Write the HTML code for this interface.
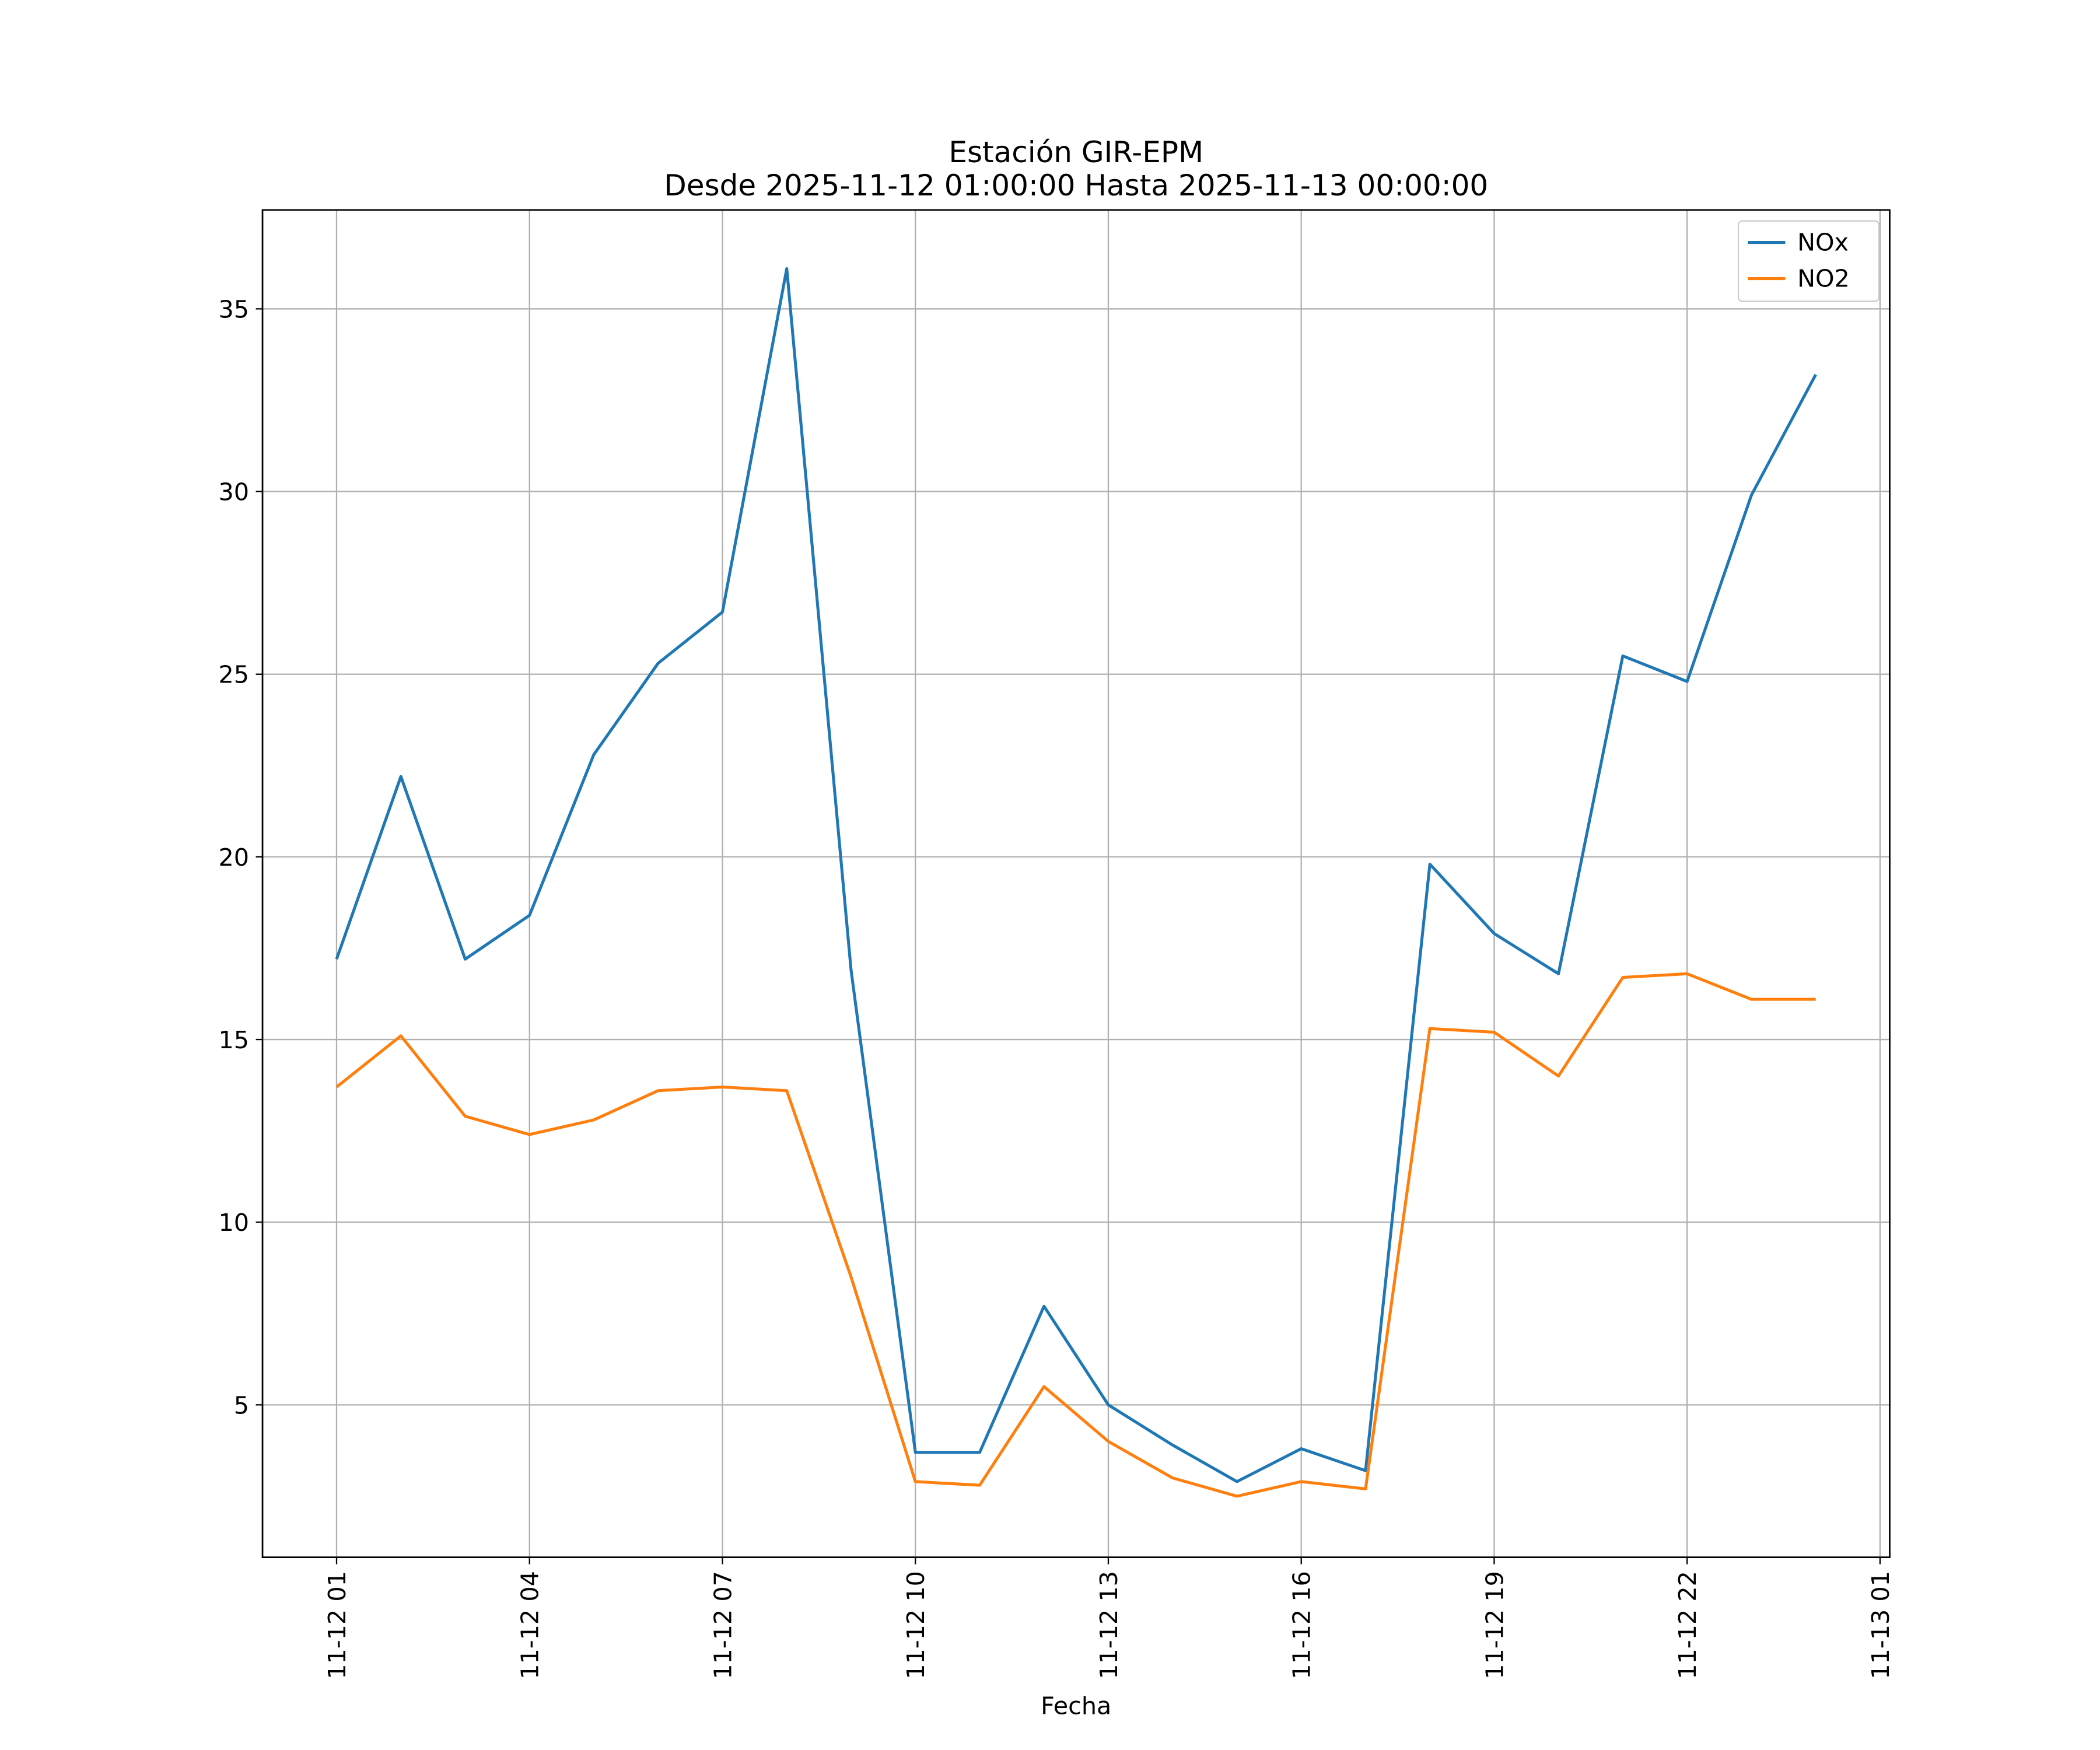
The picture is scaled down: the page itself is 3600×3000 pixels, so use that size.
<!DOCTYPE html>
<html><head><meta charset="utf-8"><style>html,body{margin:0;padding:0;background:#fff}svg{display:block}</style></head>
<body>
<svg id="chart" width="3600" height="3000" viewBox="0 0 1568 1306.7" xmlns="http://www.w3.org/2000/svg" font-family="'DejaVu Sans','Liberation Sans',sans-serif">
<rect width="1568" height="1307" fill="#fff"/>
<g id="grid"></g>
<g id="series"></g>
<rect x="196" y="156.8" width="1215" height="1006" fill="none" stroke="#000" stroke-width="1.2"/>
<g id="ticks"></g>
<text x="803.5" y="121" text-anchor="middle" font-size="21.8">Estación GIR-EPM</text>
<text x="803.5" y="146" text-anchor="middle" font-size="21.8">Desde 2025-11-12 01:00:00 Hasta 2025-11-13 00:00:00</text>
<text x="803.5" y="1280" text-anchor="middle" font-size="18">Fecha</text>
<g>
<rect x="1298" y="165" width="105" height="60" rx="3" fill="#fff" fill-opacity="0.8" stroke="#ccc"/>
<g><line x1="1305" y1="181" x2="1333" y2="181" stroke="#1f77b4" stroke-width="2.2"/><text x="1342" y="187" font-size="18">NOx</text></g>
<g><line x1="1305" y1="208" x2="1333" y2="208" stroke="#ff7f0e" stroke-width="2.2"/><text x="1342" y="214" font-size="18">NO2</text></g>
</g>
</svg>
<script>
const hours = [1,2,3,4,5,6,7,8,9,10,11,12,13,14,15,16,17,18,19,20,21,22,23,24];
const noxValues = [17.2,22.2,17.2,18.4,22.8,25.3,26.7,36.1,16.9,3.7,3.7,7.7,5.0,3.9,2.9,3.8,3.2,19.8,17.9,16.8,25.5,24.8,29.9,33.2];
const no2Values = [13.7,15.1,12.9,12.4,12.8,13.6,13.7,13.6,8.5,2.9,2.8,5.5,4.0,3.0,2.5,2.9,2.7,15.3,15.2,14.0,16.7,16.8,16.1,16.1];
const xTickHours = [1,4,7,10,13,16,19,22,25];
const xTickLabels = ["11-12 01","11-12 04","11-12 07","11-12 10","11-12 13","11-12 16","11-12 19","11-12 22","11-13 01"];
const yTicks = [5,10,15,20,25,30,35];

const NS="http://www.w3.org/2000/svg";
const X = h => 251.3 + (h-1)*48.02;
const Y = v => 1185.4 - v*27.28;
function mk(tag, attrs, parent){const e=document.createElementNS(NS,tag);for(const k in attrs)e.setAttribute(k,attrs[k]);parent.appendChild(e);return e;}
const grid=document.getElementById('grid'), ticks=document.getElementById('ticks'), series=document.getElementById('series');
xTickHours.forEach((h,i)=>{
  const x=X(h);
  const gl=mk('line',{x1:x,x2:x,y1:157,y2:1163,stroke:'#b0b0b0','stroke-width':1},grid);
  
  
  const t=mk('line',{x1:x,x2:x,y1:1163,y2:1168,stroke:'#000','stroke-width':1},ticks);
  
  
  const lb=mk('text',{x:0,y:0,'font-size':18,'text-anchor':'end',transform:`translate(${x+6.5},1173) rotate(-90)`},ticks);
  lb.textContent=xTickLabels[i];
  
  
});
yTicks.forEach(v=>{
  const y=Y(v);
  const gl=mk('line',{x1:196,x2:1411,y1:y,y2:y,stroke:'#b0b0b0','stroke-width':1},grid);
  
  
  const t=mk('line',{x1:191,x2:196,y1:y,y2:y,stroke:'#000','stroke-width':1},ticks);
  
  
  const lb=mk('text',{x:186,y:y+6.5,'font-size':18,'text-anchor':'end'},ticks);
  lb.textContent=v;
  
  
});
function line(vals,color,name){
  const p=mk('polyline',{points:vals.map((v,i)=>X(hours[i])+','+Y(v)).join(' '),fill:'none',stroke:color,'stroke-width':2.2,'stroke-linejoin':'round'},series);
  
  
}
line(noxValues,'#1f77b4','nox-line');
line(no2Values,'#ff7f0e','no2-line');
</script>
</body></html>
